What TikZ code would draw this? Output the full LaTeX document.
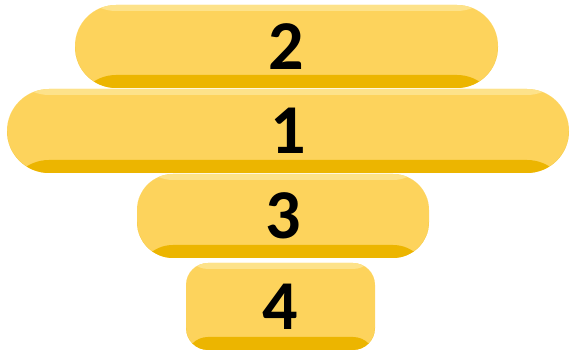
\documentclass[tikz,border=0pt]{standalone}
\usepackage{fontspec}
\setmainfont{Carlito}
\definecolor{barfill}{RGB}{253,211,92}
\definecolor{bardark}{RGB}{236,181,0}
\definecolor{barlight}{RGB}{253,226,138}
\usetikzlibrary{positioning}

\begin{document}
\begin{tikzpicture}[
  x=1pt,y=1pt,
  every node/.style={font=\fontsize{70}{70}\selectfont\bfseries},
  barnode/.style={fill=barfill,inner sep=0pt,text=black,
                  path picture={
                    \fill[bardark] (path picture bounding box.south west)
                      rectangle ([yshift=13pt]path picture bounding box.south east);
                    \fill[barlight] ([yshift=-6pt]path picture bounding box.north west)
                      rectangle (path picture bounding box.north east);
                  }},
]
  \useasboundingbox (0,0) rectangle (571,350);

  % Stacked bars (top to bottom: 2, 1, 3, 4)
  \node[barnode,rounded corners=41pt,minimum width=423pt,minimum height=83pt]
    (bar2) at (286.5,303.5) {2};
  \node[barnode,rounded corners=42pt,minimum width=562pt,minimum height=84pt]
    (bar1) at (288,219) {1};
  \node[barnode,rounded corners=36pt,minimum width=292pt,minimum height=84pt]
    (bar3) at (283,134) {3};
  \node[barnode,rounded corners=22pt,minimum width=189pt,minimum height=87pt]
    (bar4) at (280.5,43.5) {4};
\end{tikzpicture}
\end{document}
